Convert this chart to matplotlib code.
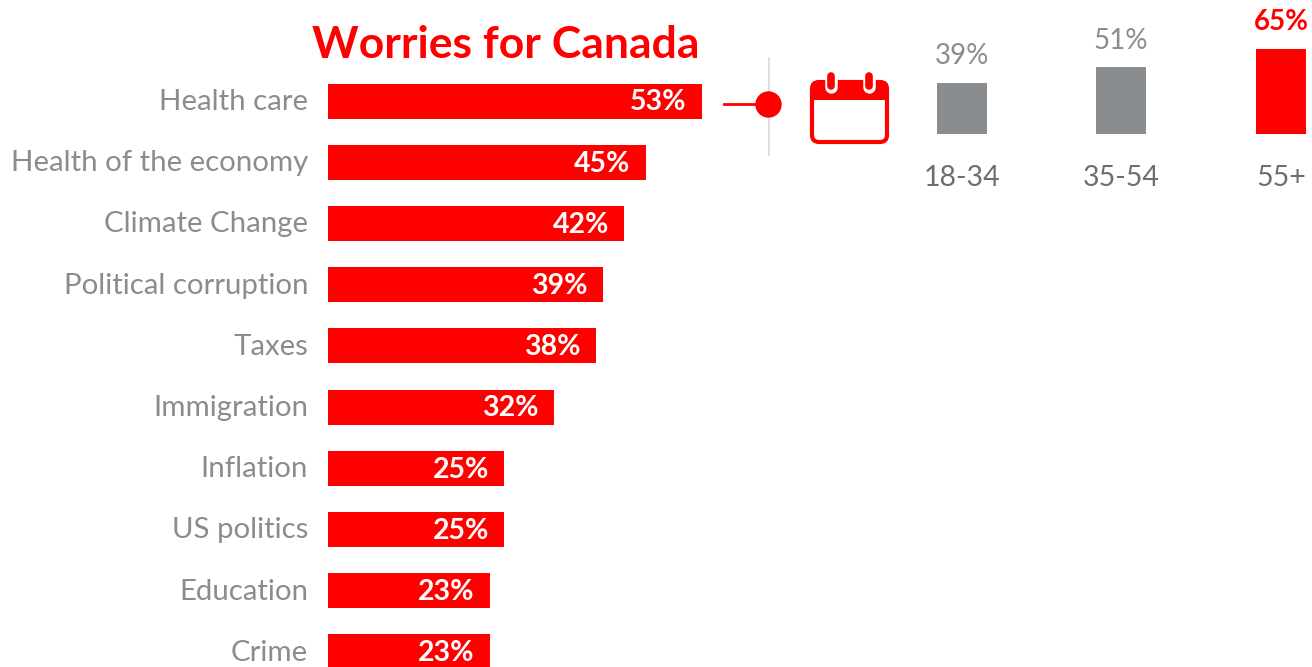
import matplotlib
matplotlib.use('Agg')
import matplotlib.pyplot as plt
from matplotlib.patches import FancyBboxPatch, Rectangle

RED = '#ff0000'
GREY = '#8a8d8f'

# values for the main chart
topics = ['Health care', 'Health of the economy', 'Climate Change', 'Political corruption',
          'Taxes', 'Immigration', 'Inflation', 'US politics', 'Education', 'Crime']
worries = [53, 45, 42, 39, 38, 32, 25, 25, 23, 23]

# values for the age groups
ages = ['18-34', '35-54', '55+']
age_values = [39, 51, 65]
age_colors = [GREY, GREY, RED]

plt.rcParams['font.family'] = ['Lato', 'DejaVu Sans']

W, H = 1312, 667
fig = plt.figure(figsize=(W / 100, H / 100), dpi=100)

# main bars, the axes goes from the bar baseline to the 53% bar end
ax = fig.add_axes([328 / W, 0, (702 - 328) / W, 1])
ax.set_xlim(0, 53)
ax.set_ylim(667, 0)
ax.axis('off')
rows = [101 + 61.2 * i for i in range(len(topics))]
ax.barh(rows, worries, height=35, color=RED, clip_on=True)
for y, name, v in zip(rows, topics, worries):
    ax.text(v - 6.2, y + 1.5, f'{v}%', color='white', fontsize=20.5, fontweight='bold',
            ha='center', va='center')
    ax.text(-2.8, y + 1, name, color=GREY, fontsize=21.2, ha='right', va='center')

# whole figure overlay in pixel coordinates
ov = fig.add_axes([0, 0, 1, 1])
ov.set_xlim(0, W)
ov.set_ylim(H, 0)
ov.axis('off')
ov.patch.set_alpha(0)

ov.text(506, 45, 'Worries for Canada', color=RED, fontsize=32, fontweight='bold',
        ha='center', va='center')

# connector
ov.plot([768.5, 768.5], [58, 155], color='#d9d9d9', lw=1.2)
ov.plot([724, 768], [104, 104], color=RED, lw=2)
ov.plot([768], [104], 'o', color=RED, ms=19, mew=0)

# calendar icon
ov.add_patch(FancyBboxPatch((812, 82), 75, 60, boxstyle='round,pad=0,rounding_size=7',
                            fc='white', ec=RED, lw=3))
ov.add_patch(FancyBboxPatch((811, 81), 77, 14, boxstyle='round,pad=0,rounding_size=6',
                            fc=RED, ec=RED, lw=0))
ov.add_patch(Rectangle((811, 90), 77, 10, fc=RED, ec=RED, lw=0))
for x in [831, 869]:
    ov.plot([x, x], [76, 87], color='white', lw=9, solid_capstyle='round')
    ov.plot([x, x], [76, 86], color=RED, lw=5.5, solid_capstyle='round')

# age group bars share one scale, 134 px is the baseline
bar_ax = fig.add_axes([0, (H - 134) / H, 1, 85 / H])
bar_ax.set_xlim(0, W)
bar_ax.set_ylim(0, 65)
bar_ax.axis('off')
bar_ax.patch.set_alpha(0)
centers = [962, 1121, 1281]
bar_ax.bar(centers, age_values, width=50, color=age_colors, clip_on=False)
for x, a, v, c in zip(centers, ages, age_values, age_colors):
    bold = c == RED
    bar_ax.text(x, v + 10.5, f'{v}%', color=c, fontsize=20,
                fontweight='bold' if bold else 'normal', ha='center', va='bottom', clip_on=False)
    ov.text(x, 178, a, color='#6d6e71', fontsize=20.5, ha='center', va='center')

fig.savefig('out.png', dpi=100)
